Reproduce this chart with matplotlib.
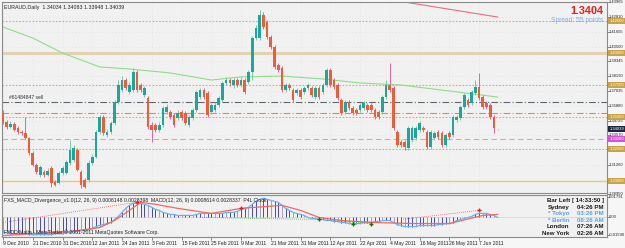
import matplotlib
matplotlib.use('Agg')
import matplotlib.pyplot as plt
import numpy as np

plt.rcParams['font.family'] = ['Liberation Sans', 'DejaVu Sans']

# ---- price data (EURAUD daily) ----
opens = [1.3531, 1.3461, 1.3422, 1.3445, 1.3414, 1.3383, 1.3375, 1.3336, 1.3219, 1.3125,
         1.3047, 1.3070, 1.3047, 1.3102, 1.2992, 1.2984, 1.3063, 1.3063, 1.3141, 1.3164,
         1.3242, 1.3070, 1.3008, 1.3008, 1.3141, 1.3188, 1.3383, 1.3500, 1.3359, 1.3383,
         1.3453, 1.3617, 1.3711, 1.3789, 1.3695, 1.3711, 1.3852, 1.3750, 1.3672, 1.3648,
         1.3438, 1.3438, 1.3398, 1.3438, 1.3539, 1.3539, 1.3516, 1.3492, 1.3539, 1.3531,
         1.3438, 1.3492, 1.3555, 1.3656, 1.3711, 1.3688, 1.3539, 1.3555, 1.3594, 1.3633,
         1.3766, 1.3789, 1.3750, 1.3789, 1.3750, 1.3789, 1.3773, 1.3852, 1.4117, 1.4117,
         1.4297, 1.4242, 1.4125, 1.4047, 1.3906, 1.3883, 1.3711, 1.3750, 1.3711, 1.3688,
         1.3711, 1.3695, 1.3727, 1.3727, 1.3656, 1.3727, 1.3695, 1.3750, 1.3867, 1.3789,
         1.3750, 1.3633, 1.3539, 1.3617, 1.3570, 1.3555, 1.3555, 1.3570, 1.3594, 1.3594,
         1.3555, 1.3539, 1.3539, 1.3656, 1.3750, 1.3727, 1.3383, 1.3305, 1.3305, 1.3258,
         1.3320, 1.3336, 1.3398, 1.3414, 1.3383, 1.3266, 1.3336, 1.3383, 1.3375, 1.3281,
         1.3375, 1.3359, 1.3477, 1.3492, 1.3578, 1.3633, 1.3609, 1.3688, 1.3734, 1.3656,
         1.3609, 1.3594, 1.3500, 1.34034]
highs = [1.3555, 1.3477, 1.3469, 1.3461, 1.3430, 1.3398, 1.3500, 1.3344, 1.3234, 1.3141,
         1.3125, 1.3086, 1.3102, 1.3117, 1.3008, 1.3078, 1.3117, 1.3164, 1.3320, 1.3281,
         1.3258, 1.3086, 1.3023, 1.3164, 1.3211, 1.3398, 1.3516, 1.3516, 1.3406, 1.3469,
         1.3633, 1.3789, 1.3820, 1.3805, 1.3773, 1.3883, 1.3867, 1.3766, 1.3742, 1.3664,
         1.3461, 1.3453, 1.3461, 1.3586, 1.3602, 1.3555, 1.3531, 1.3555, 1.3555, 1.3547,
         1.3516, 1.3570, 1.3711, 1.3727, 1.3727, 1.3703, 1.3609, 1.3617, 1.3664, 1.3781,
         1.3813, 1.3805, 1.3805, 1.3805, 1.3813, 1.3805, 1.3867, 1.4133, 1.4219, 1.4336,
         1.4320, 1.4258, 1.4141, 1.4063, 1.3922, 1.3898, 1.3766, 1.3766, 1.3727, 1.3727,
         1.3727, 1.3742, 1.3766, 1.3742, 1.3742, 1.3742, 1.3766, 1.3883, 1.3883, 1.3805,
         1.3766, 1.3648, 1.3633, 1.3633, 1.3586, 1.3570, 1.3609, 1.3625, 1.3609, 1.3609,
         1.3570, 1.3555, 1.3672, 1.3789, 1.3922, 1.3742, 1.3398, 1.3320, 1.3320, 1.3430,
         1.3430, 1.3430, 1.3469, 1.3430, 1.3398, 1.3398, 1.3391, 1.3398, 1.3391, 1.3375,
         1.3391, 1.3516, 1.3516, 1.3594, 1.3688, 1.3648, 1.3711, 1.3789, 1.3844, 1.3672,
         1.3625, 1.3609, 1.3516, 1.34083]
lows = [1.3445, 1.3406, 1.3414, 1.3391, 1.3367, 1.3359, 1.3328, 1.3203, 1.3117, 1.3055,
        1.3031, 1.3031, 1.3039, 1.2953, 1.2961, 1.2977, 1.3047, 1.3055, 1.3125, 1.3148,
        1.3078, 1.2945, 1.2945, 1.2992, 1.3125, 1.3180, 1.3367, 1.3359, 1.3344, 1.3367,
        1.3438, 1.3602, 1.3695, 1.3711, 1.3680, 1.3695, 1.3695, 1.3695, 1.3656, 1.3406,
        1.3305, 1.3383, 1.3383, 1.3422, 1.3523, 1.3484, 1.3422, 1.3477, 1.3477, 1.3438,
        1.3422, 1.3477, 1.3539, 1.3641, 1.3641, 1.3500, 1.3523, 1.3539, 1.3578, 1.3617,
        1.3750, 1.3742, 1.3727, 1.3734, 1.3734, 1.3680, 1.3758, 1.3789, 1.4102, 1.4102,
        1.4188, 1.4109, 1.4031, 1.3875, 1.3852, 1.3695, 1.3695, 1.3711, 1.3617, 1.3672,
        1.3641, 1.3680, 1.3711, 1.3656, 1.3641, 1.3641, 1.3680, 1.3734, 1.3734, 1.3719,
        1.3633, 1.3516, 1.3523, 1.3555, 1.3516, 1.3516, 1.3539, 1.3555, 1.3539, 1.3539,
        1.3484, 1.3484, 1.3523, 1.3641, 1.3695, 1.3398, 1.3266, 1.3266, 1.3242, 1.3242,
        1.3305, 1.3320, 1.3383, 1.3383, 1.3250, 1.3250, 1.3320, 1.3328, 1.3266, 1.3266,
        1.3328, 1.3344, 1.3461, 1.3477, 1.3563, 1.3578, 1.3594, 1.3672, 1.3633, 1.3563,
        1.3563, 1.3484, 1.3375, 1.33948]
closes = [1.3461, 1.3422, 1.3445, 1.3398, 1.3383, 1.3375, 1.3336, 1.3219, 1.3125, 1.3070,
          1.3109, 1.3047, 1.3078, 1.2984, 1.2969, 1.3063, 1.3102, 1.3148, 1.3242, 1.3258,
          1.3086, 1.2969, 1.2953, 1.3141, 1.3188, 1.3383, 1.3500, 1.3375, 1.3383, 1.3453,
          1.3617, 1.3750, 1.3789, 1.3727, 1.3750, 1.3852, 1.3711, 1.3711, 1.3727, 1.3422,
          1.3398, 1.3398, 1.3438, 1.3570, 1.3578, 1.3500, 1.3438, 1.3531, 1.3492, 1.3453,
          1.3500, 1.3555, 1.3695, 1.3711, 1.3656, 1.3516, 1.3594, 1.3594, 1.3648, 1.3766,
          1.3789, 1.3766, 1.3789, 1.3750, 1.3789, 1.3695, 1.3852, 1.4117, 1.4195, 1.4297,
          1.4203, 1.4125, 1.4047, 1.3891, 1.3867, 1.3711, 1.3750, 1.3727, 1.3633, 1.3711,
          1.3656, 1.3727, 1.3750, 1.3672, 1.3727, 1.3656, 1.3750, 1.3867, 1.3750, 1.3734,
          1.3648, 1.3531, 1.3617, 1.3570, 1.3531, 1.3531, 1.3594, 1.3609, 1.3555, 1.3555,
          1.3500, 1.3500, 1.3656, 1.3750, 1.3711, 1.3414, 1.3281, 1.3281, 1.3266, 1.3414,
          1.3414, 1.3414, 1.3453, 1.3398, 1.3266, 1.3383, 1.3375, 1.3344, 1.3281, 1.3359,
          1.3344, 1.3500, 1.3500, 1.3578, 1.3672, 1.3594, 1.3695, 1.3734, 1.3648, 1.3578,
          1.3578, 1.3500, 1.3414, 1.34039]

date_ticks = [0, 8, 16, 24, 32, 40, 48, 56, 64, 72, 80, 88, 96, 104, 112, 120, 128]
date_labels = ['9 Dec 2010', '21 Dec 2010', '31 Dec 2010', '12 Jan 2011', '24 Jan 2011',
               '3 Feb 2011', '15 Feb 2011', '25 Feb 2011', '9 Mar 2011', '21 Mar 2011',
               '31 Mar 2011', '12 Apr 2011', '22 Apr 2011', '4 May 2011', '16 May 2011',
               '26 May 2011', '7 Jun 2011']

# moving averages (sampled along the drawn curves)
ma_green_x = [0, 8, 16, 26, 34, 45, 56, 64, 75, 86, 96, 107, 120, 133]
ma_green_y = [1.4203, 1.4117, 1.4000, 1.3891, 1.3875, 1.3844, 1.3789, 1.3813, 1.3820,
              1.3797, 1.3766, 1.3750, 1.3703, 1.3656]
ma_red_x = [100, 108, 133]
ma_red_y = [1.4437, 1.4398, 1.4281]

# horizontal levels: price, colour, style, width
levels = [1.4250, 1.4000, 1.3750, 1.3618, 1.3531, 1.3500, 1.3328, 1.3250, 1.3000]
level_colors = ['#d4b060', '#e2d2b2', '#d4b060', '#5f666e', '#f2805e', '#d4b060', '#d7a9a0',
                '#d4b060', '#e0c890']
level_styles = [(0, (1.5, 1.5)), '-', (0, (1.5, 1.5)), (0, (6, 2, 1, 2)), (0, (6, 2, 1, 2)),
                (0, (1.5, 1.5)), (0, (5, 3)), (0, (1.5, 1.5)), '-']
level_widths = [0.8, 2.2, 0.8, 0.8, 0.8, 0.8, 0.8, 0.8, 1.0]

axis_ticks = [1.28950, 1.31260, 1.33570, 1.34725, 1.35880, 1.37035, 1.38190,
              1.39345, 1.40500, 1.41655, 1.42810, 1.43965]
tag_prices = [1.42500, 1.40000, 1.37500, 1.35000, 1.34039, 1.33280, 1.32500, 1.30000]
tag_colors = ['#c9a24a', '#c9a24a', '#c9a24a', '#c9a24a', '#1c2640', '#d455d4',
              '#c9a24a', '#c9a24a']

# ---- MACD divergence indicator ----
macd = [-0.0135, -0.0135, -0.0144, -0.0144, -0.0144, -0.0144, -0.0144, -0.0153, -0.0153, -0.0153,
        -0.0153, -0.0153, -0.0153, -0.0153, -0.0144, -0.0144, -0.0144, -0.0135, -0.0135, -0.0126,
        -0.0126, -0.0117, -0.0117, -0.0108, -0.0099, -0.0081, -0.0072, -0.0063, -0.0054, -0.0045,
        -0.0018, 0.0009, 0.0045, 0.0081, 0.0108, 0.0126, 0.0126, 0.0126, 0.0117, 0.0108,
        0.0090, 0.0072, 0.0063, 0.0045, 0.0036, 0.0027, 0.0027, 0.0018, 0.0018, 0.0018,
        0.0018, 0.0018, 0.0027, 0.0036, 0.0036, 0.0036, 0.0036, 0.0036, 0.0036, 0.0036,
        0.0045, 0.0045, 0.0045, 0.0054, 0.0072, 0.0081, 0.0090, 0.0117, 0.0144, 0.0162,
        0.0171, 0.0162, 0.0153, 0.0144, 0.0135, 0.0108, 0.0081, 0.0063, 0.0045, 0.0036,
        0.0027, 0.0018, 0.0000, -0.0009, -0.0009, -0.0018, -0.0018, -0.0027, -0.0027, -0.0036,
        -0.0036, -0.0045, -0.0045, -0.0054, -0.0054, -0.0054, -0.0054, -0.0045, -0.0045, -0.0045,
        -0.0036, -0.0036, -0.0027, -0.0027, -0.0027, -0.0045, -0.0063, -0.0072, -0.0081, -0.0081,
        -0.0081, -0.0081, -0.0072, -0.0072, -0.0072, -0.0072, -0.0072, -0.0063, -0.0063, -0.0054,
        -0.0054, -0.0045, -0.0027, -0.0018, -0.0009, 0.0000, 0.0009, 0.0027, 0.0036, 0.0036,
        0.0036, 0.0027, 0.0018, 0.0000]
signal_x = [0, 8, 18, 26, 30, 34, 37, 41, 47, 56, 64, 75, 80, 85, 91, 100, 110, 120, 129, 133]
signal_y = [-0.0162, -0.0144, -0.0126, -0.0090, -0.0027, 0.0063, 0.0135, 0.0117, 0.0081, 0.0036,
            0.0081, 0.0108, 0.0063, 0.0000, -0.0027, -0.0045, -0.0054, -0.0054, 0.0018, 0.0027]
div_red_x = [[0, 36], [107, 128]]
div_red_y = [[-0.0045, 0.0135], [-0.0018, 0.0063]]
div_green_x = [[53, 85, 99]]
div_green_y = [[0.0000, -0.0018, -0.0054]]
arrow_red_x = [36, 64, 128]
arrow_red_y = [0.0135, 0.0081, 0.0063]
arrow_green_x = [85, 94, 99]
arrow_green_y = [-0.0018, -0.0054, -0.0054]
ind_ticks = [0.01791, 0.0, -0.01590]
ind_tick_labels = ['0.01791', '0.00', '-0.01590']

clock_names = ['Sydney', '* Tokyo', '* Berlin', 'London', 'New York']
clock_times = ['04:26 PM', '03:26 PM', '08:26 AM', '07:26 AM', '02:26 AM']
clock_colors = ['#1a1a1a', '#5aa0e0', '#5aa0e0', '#1a1a1a', '#1a1a1a']

# ---------------------------------------------------------------
W, H = 625, 248
BG = '#f2f1f1'
fig = plt.figure(figsize=(W / 100, H / 100), dpi=100, facecolor='#f6f6f6')


def box(x0, y0, x1, y1):
    return [x0 / W, 1 - y1 / H, (x1 - x0) / W, (y1 - y0) / H]


ax = fig.add_axes(box(2, 2, 607, 193), facecolor=BG)
axi = fig.add_axes(box(2, 195, 607, 237), facecolor=BG)

n = len(closes)
idx = np.arange(n)
xl = (-0.27, 162.4)
for a in (ax, axi):
    a.set_xlim(*xl)
    for s in a.spines.values():
        s.set_color('#8a8a8a')
        s.set_linewidth(0.8)
    a.tick_params(left=False, labelleft=False, right=False)

ax.set_ylim(1.29063, 1.43984)
ax.set_xticks([])
ax.set_yticks([])

# faint dotted grid (MT4 style)
for p in axis_ticks:
    ax.axhline(p, color='#b3d6cf', lw=0.4, ls=(0, (1, 5)), zorder=0)
for t in date_ticks:
    ax.axvline(t, color='#b3d6cf', lw=0.4, ls=(0, (1, 5)), zorder=0)
    axi.axvline(t, color='#b3d6cf', lw=0.4, ls=(0, (1, 5)), zorder=0)

for p, c, st, lw in zip(levels, level_colors, level_styles, level_widths):
    ax.axhline(p, color=c, ls=st, lw=lw, zorder=1)

ax.plot(ma_green_x, ma_green_y, color='#8fdc8a', lw=0.8, zorder=2)
ax.plot(ma_red_x, ma_red_y, color='#ec6a86', lw=0.8, zorder=2)

o = np.array(opens)
c = np.array(closes)
up = c >= o
body_col = np.where(up, '#1aa89c', '#ef5c3c')
wick_col = np.where(up, '#79c9a6', '#e4649a')
ax.vlines(idx, lows, highs, colors=wick_col, lw=0.7, zorder=3)
hgt = np.where(np.abs(c - o) < 0.0002, 0.0002, c - o)
ax.bar(idx, hgt, bottom=o, width=0.72, color=body_col, lw=0, zorder=4)

ax.text(0.004, 0.985, 'EURAUD,Daily  1.34034 1.34083 1.33948 1.34039',
        transform=ax.transAxes, fontsize=3.8, va='top', color='#222222')
ax.text(0.994, 0.955, '1.3404', transform=ax.transAxes, fontsize=7.8, fontweight='bold',
        color='#ee1c1c', ha='right', va='center')
ax.text(0.994, 0.905, 'Spread: 55 points', transform=ax.transAxes, fontsize=4.8,
        color='#7fb0e0', ha='right', va='center')
ax.text(1.5, 1.3618 + 0.0012, '#61484847 sell', fontsize=3.6, color='#303030', va='bottom')

ytr = ax.get_yaxis_transform()
for p in axis_ticks:
    ax.plot([1.0, 1.003], [p, p], color='#606060', lw=0.5, transform=ytr, clip_on=False)
    ax.text(1.0035, p, f'{p:.5f}', transform=ytr, fontsize=3.0, va='center', ha='left',
            color='#222222', clip_on=False)
for p, col in zip(tag_prices, tag_colors):
    ax.text(1.004, p, f'{p:.5f}', transform=ytr, fontsize=3.0, va='center', ha='left',
            color='white', clip_on=False,
            bbox=dict(boxstyle='square,pad=0.25', fc=col, ec='none'))

# ---- indicator panel ----
axi.set_ylim(-0.0174, 0.0200)
axi.set_yticks([])
axi.axhline(0, color='#c8c8c8', lw=0.4, zorder=0)
hist_col = ['#4848b8' if i % 3 else '#a0a0b4' for i in idx]
axi.vlines(idx, 0, macd, colors=hist_col, lw=0.7, zorder=2)
axi.plot(idx, macd, color='#6ab2ee', lw=0.9, zorder=3)
axi.plot(signal_x, signal_y, color='#f06a62', lw=0.9, zorder=3)
for xs, ys in zip(div_red_x, div_red_y):
    axi.plot(xs, ys, color='#f05050', lw=0.6, ls=(0, (1, 1.5)), zorder=4)
for xs, ys in zip(div_green_x, div_green_y):
    axi.plot(xs, ys, color='#30b030', lw=0.6, ls=(0, (1, 1.5)), zorder=4)
axi.plot(arrow_red_x, arrow_red_y, ls='none', marker='+', ms=3.5, mew=1.0, color='#e02020', zorder=5)
axi.plot(arrow_green_x, arrow_green_y, ls='none', marker='+', ms=3.5, mew=1.0, color='#107010',
         zorder=5)

axi.text(0.004, 0.93, 'FXS_MACD_Divergence_v1.0(12, 26, 9) 0.0006148 0.0028398  '
         'MACD(12, 26, 9) 0.0008614 0.0028337  P4L Clock',
         transform=axi.transAxes, fontsize=3.7, va='top', color='#222222')
axi.text(0.004, 0.05, 'FXDD Malta - MetaTrader \u00a9 2001-2011 MetaQuotes Software Corp.',
         transform=axi.transAxes, fontsize=3.7, va='bottom', color='#222222')

axi.text(0.995, 0.87, 'Bar Left [ 14:33:50 ]', transform=axi.transAxes, fontsize=4.4,
         fontweight='bold', ha='right', va='center', color='#1a1a1a')
for k, (nm, tm, col) in enumerate(zip(clock_names, clock_times, clock_colors)):
    yy = 0.71 - k * 0.155
    axi.text(0.938, yy, nm, transform=axi.transAxes, fontsize=4.4, fontweight='bold',
             ha='right', va='center', color=col)
    axi.text(0.995, yy, tm, transform=axi.transAxes, fontsize=4.4, fontweight='bold',
             ha='right', va='center', color=col)

ytri = axi.get_yaxis_transform()
for v, lab in zip(ind_ticks, ind_tick_labels):
    axi.plot([1.0, 1.003], [v, v], color='#606060', lw=0.5, transform=ytri, clip_on=False)
    axi.text(1.0035, v, lab, transform=ytri, fontsize=3.0, va='center', ha='left',
             color='#222222', clip_on=False)

axi.set_xticks(date_ticks)
axi.set_xticklabels(date_labels, fontsize=3.6, color='#222222')
for lab in axi.get_xticklabels():
    lab.set_ha('left')
axi.tick_params(axis='x', length=2, width=0.5, pad=1.2, color='#606060')

fig.savefig('out.png', dpi=100, facecolor=fig.get_facecolor())
